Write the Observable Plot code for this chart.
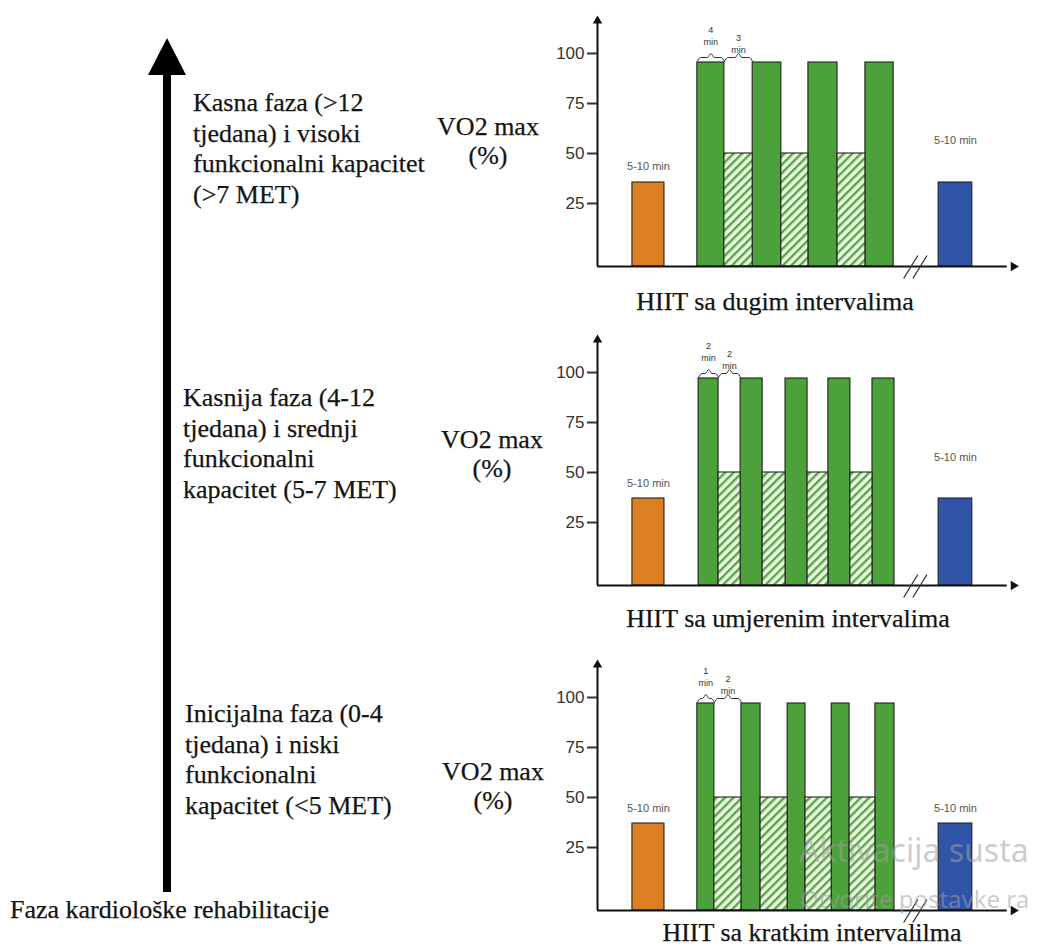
<!DOCTYPE html>
<html>
<head>
<meta charset="utf-8">
<script src="https://cdn.jsdelivr.net/npm/d3@7"></script>
<script src="https://cdn.jsdelivr.net/npm/@observablehq/plot@0.6"></script>
<style>
  html, body { margin: 0; padding: 0; background: #fff; }
  #page { position: relative; width: 1046px; height: 949px; overflow: hidden; background: #fff; color: #141414; }
  .serif, .title, .vo2 { font-family: "Liberation Serif", "Times New Roman", Times, "DejaVu Serif", "Noto Serif", serif; -webkit-text-stroke: 0.25px #141414; }
  .serif { position: absolute; font-size: 26px; line-height: 30.7px; white-space: nowrap; }
  .title { position: absolute; width: 440px; text-align: center; font-size: 26px; line-height: 30.7px; white-space: nowrap; }
  .vo2 { position: absolute; width: 140px; text-align: center; font-size: 26px; line-height: 29px; white-space: nowrap; }
  .panel { position: absolute; left: 540px; }
  .wm { position: absolute; font-family: "Noto Sans", "Open Sans", sans-serif; color: rgba(160,160,160,0.55); white-space: nowrap; z-index: 5; }
</style>
</head>
<body>
<div id="page">
  <svg width="0" height="0" style="position:absolute">
    <defs>
      <pattern id="hatch" patternUnits="userSpaceOnUse" width="6" height="6" patternTransform="rotate(45)">
        <rect width="6" height="6" fill="#eef7e6"></rect>
        <rect width="2.4" height="6" fill="#55a842"></rect>
      </pattern>
    </defs>
  </svg>
  <!-- phase axis arrow -->
  <svg width="60" height="900" style="position:absolute;left:137px;top:30px">
    <polygon points="30,8 49,45 11,45" fill="#000"></polygon>
    <rect x="26" y="44" width="8" height="818" fill="#000"></rect>
  </svg>
  <div class="serif" style="left:10px;top:895px;">Faza kardiološke rehabilitacije</div>
  <div id="panels"></div>
  <div class="wm" style="left:799px;top:829px;font-size:32px;line-height:42px;">Aktivacija susta</div>
  <div class="wm" style="left:800px;top:883px;font-size:24px;line-height:32px;">Otvorite postavke ra</div>
</div>
<script>
// ---------------- data ----------------
const panelTitles = ["HIIT sa dugim intervalima", "HIIT sa umjerenim intervalima", "HIIT sa kratkim intervalilma"];
const phaseLabels = [
  ["Kasna faza (>12", "tjedana) i visoki", "funkcionalni kapacitet", "(>7 MET)"],
  ["Kasnija faza (4-12", "tjedana) i srednji", "funkcionalni", "kapacitet (5-7 MET)"],
  ["Inicijalna faza (0-4", "tjedana) i niski", "funkcionalni", "kapacitet (<5 MET)"]
];
const yLabel = ["VO2 max", "(%)"];
const workLabels = ["4\nmin", "2\nmin", "1\nmin"];
const restLabels = ["3\nmin", "2\nmin", "2\nmin"];
const durationLabel = "5-10 min";
const yTicks = [25, 50, 75, 100];

// intensities (% VO2 max)
const workLevel = [95.5, 97, 97];
const restLevel = [50, 50, 50];
const warmLevel = [35.5, 37, 37];
const coolLevel = [35.5, 37, 37];
const warmLabelLevel = [43.5, 44.5, 44.5];
const coolLabelLevel = [56.5, 57.5, 44.5];

// schematic time axis (0-100), alternating work / rest interval edges
const warmSpan = [8.4, 16.1];
const coolSpan = [82.0, 90.1];
const edgesLong = [24.0, 30.5, 37.3, 44.2, 50.7, 57.7, 64.4, 71.2];
const edgesModerate = [24.3, 29.1, 34.4, 39.7, 45.2, 50.5, 55.5, 60.8, 66.1, 71.4];
const edgesShort = [24.0, 28.1, 34.6, 39.2, 45.7, 50.0, 56.3, 60.6, 66.8, 71.4];
const breakMarks = [73.6, 75.8];

// ---------------- layout ----------------
const yMin = -6.5, yMax = 118.5;
const panelTop = [6, 325, 650];
const phasePos = [[193, 88], [183, 383], [185, 699]];
const vo2Pos = [[488, 112], [492, 425], [493, 757]];
const titlePos = [[775, 287], [788, 604], [812, 918]];

const orange = "#dc7f22", green = "#4ca13a", blue = "#3054a8", outline = "#222";

const page = document.getElementById("page");
phaseLabels.forEach((lines, i) => {
  const d = document.createElement("div");
  d.className = "serif";
  d.style.left = phasePos[i][0] + "px";
  d.style.top = phasePos[i][1] + "px";
  d.innerHTML = lines.map(s => s.replace(/</g, "&lt;").replace(/>/g, "&gt;")).join("<br>");
  page.appendChild(d);
  const v = document.createElement("div");
  v.className = "vo2";
  v.style.left = (vo2Pos[i][0] - 70) + "px";
  v.style.top = vo2Pos[i][1] + "px";
  v.innerHTML = yLabel.join("<br>");
  page.appendChild(v);
  const t = document.createElement("div");
  t.className = "title";
  t.style.left = (titlePos[i][0] - 220) + "px";
  t.style.top = titlePos[i][1] + "px";
  t.textContent = panelTitles[i];
  page.appendChild(t);
});

function makePanel(i, edges) {
  const warm = [{x1: warmSpan[0], x2: warmSpan[1], y1: yMin, y2: warmLevel[i]}];
  const cool = [{x1: coolSpan[0], x2: coolSpan[1], y1: yMin, y2: coolLevel[i]}];
  const work = [], rest = [];
  for (let k = 0; k < edges.length - 1; k++) {
    const seg = {x1: edges[k], x2: edges[k + 1], y1: yMin};
    if (k % 2 === 0) work.push({...seg, y2: workLevel[i]});
    else rest.push({...seg, y2: restLevel[i]});
  }
  const brace = (a, b, v, id) => {
    const m = (a + b) / 2, e = 0.8;
    return [[a, v + 0.5], [a + e, v + 2.5], [m - e, v + 2.5], [m, v + 4.5], [m + e, v + 2.5], [b - e, v + 2.5], [b, v + 0.5]]
      .map(([x, y]) => ({x, y, id}));
  };
  const braces = [...brace(edges[0], edges[1], workLevel[i], "w"), ...brace(edges[1], edges[2], workLevel[i], "r")];
  const durLabels = [
    {x: (warmSpan[0] + warmSpan[1]) / 2, y: warmLabelLevel[i]},
    {x: (coolSpan[0] + coolSpan[1]) / 2, y: coolLabelLevel[i]}
  ];
  const rectOpts = {x1: "x1", x2: "x2", y1: "y1", y2: "y2", stroke: outline, strokeWidth: 1.1};
  return Plot.plot({
    width: 500, height: 280,
    marginLeft: 57, marginRight: 27, marginTop: 10, marginBottom: 20,
    x: {domain: [0, 100], axis: null},
    y: {domain: [yMin, yMax], axis: null},
    style: {background: "transparent", fontFamily: "'Liberation Sans', Arial, sans-serif", overflow: "visible", color: "#333"},
    marks: [
      Plot.rect(warm, {...rectOpts, fill: orange}),
      Plot.rect(work, {...rectOpts, fill: green}),
      Plot.rect(rest, {...rectOpts, fill: "url(#hatch)"}),
      Plot.rect(cool, {...rectOpts, fill: blue}),
      Plot.ruleY([{y: yMin, x1: 0, x2: 98.5}], {y: "y", x1: "x1", x2: "x2", stroke: "#111", strokeWidth: 2}),
      Plot.ruleX([{x: 0, y1: yMin, y2: yMax - 3}], {x: "x", y1: "y1", y2: "y2", stroke: "#111", strokeWidth: 2}),
      Plot.dot([{x: 100, y: yMin}], {x: "x", y: "y", symbol: "triangle2", rotate: 90, r: 4.5, fill: "#111", stroke: "none"}),
      Plot.dot([{x: 0, y: yMax - 2.2}], {x: "x", y: "y", symbol: "triangle2", r: 4.5, fill: "#111", stroke: "none"}),
      Plot.link(breakMarks.map(b => ({b})), {x1: d => d.b, x2: d => d.b + 3.4, y1: yMin - 6, y2: yMin + 5.5, stroke: "#333", strokeWidth: 1.3}),
      Plot.axisY(yTicks, {anchor: "left", tickSize: 10, tickPadding: 3, fontSize: 17, color: "#333", strokeWidth: 2, label: null}),
      Plot.line(braces, {x: "x", y: "y", z: "id", stroke: "#333", strokeWidth: 1, curve: "monotone-x"}),
      Plot.text([{x: (edges[0] + edges[1]) / 2, y: workLevel[i], t: workLabels[i]}], {x: "x", y: "y", text: "t", dy: -27, fontSize: 9, lineHeight: 1.3, fill: "#333"}),
      Plot.text([{x: (edges[1] + edges[2]) / 2, y: workLevel[i], t: restLabels[i]}], {x: "x", y: "y", text: "t", dy: -19, fontSize: 9, lineHeight: 1.3, fill: "#333"}),
      Plot.text(durLabels, {x: "x", y: "y", text: () => durationLabel, fontSize: 11, fill: "#555"})
    ]
  });
}

[edgesLong, edgesModerate, edgesShort].forEach((edges, i) => {
  const wrap = document.createElement("div");
  wrap.className = "panel";
  wrap.style.top = panelTop[i] + "px";
  wrap.appendChild(makePanel(i, edges));
  document.getElementById("panels").appendChild(wrap);
});
</script>
</body>
</html>
